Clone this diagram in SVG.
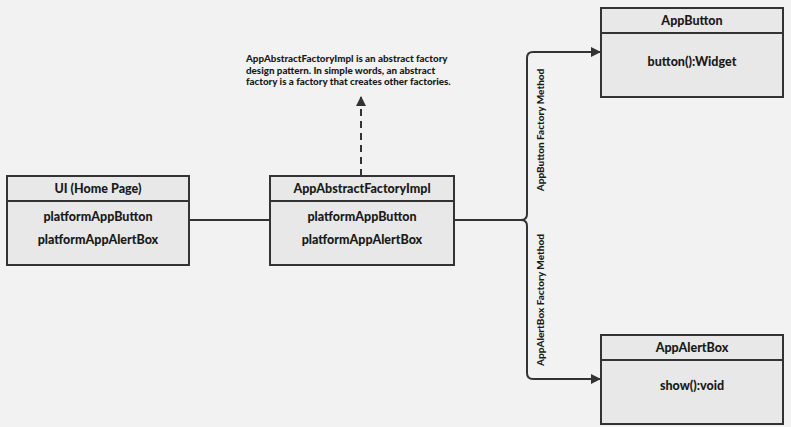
<svg xmlns="http://www.w3.org/2000/svg" width="791" height="427" viewBox="0 0 791 427">
<style>
.box{fill:#e8e8e8;stroke:#333;stroke-width:2}
text{font-family:"Lato","DejaVu Sans",sans-serif;font-weight:900;fill:#1a1a1a}
.t{font-size:12.5px;text-anchor:middle}
.s{font-size:9.8px}
.v{font-size:10px;text-anchor:middle}
.ln{fill:none;stroke:#333;stroke-width:2}
</style>
<defs><marker id="a" markerWidth="10" markerHeight="10" refX="9" refY="5" orient="auto" markerUnits="userSpaceOnUse"><path d="M0,0L10,5L0,10z" fill="#333"/></marker></defs>
<rect width="791" height="427" fill="#f2f2f2"/>
<g id="connectors">
<line class="ln" x1="189" y1="220" x2="270" y2="220"/>
<line class="ln" x1="361" y1="176" x2="361" y2="97" stroke-dasharray="7,5" marker-end="url(#a)"/>
<path class="ln" d="M454,220H521Q527,220 527,214V58Q527,52 533,52H600" marker-end="url(#a)"/>
<path class="ln" d="M521,220Q527,220 527,226V373Q527,379 533,379H600" marker-end="url(#a)"/>
<text class="v" transform="translate(544,130) rotate(-90)">AppButton Factory Method</text>
<text class="v" transform="translate(544,300) rotate(-90)">AppAlertBox Factory Method</text>
</g>
<g id="note">
<text class="s" x="246" y="62">AppAbstractFactoryImpl is an abstract factory</text>
<text class="s" x="246" y="74">design pattern. In simple words, an abstract</text>
<text class="s" x="246" y="85">factory is a factory that creates other factories.</text>
</g>
<g id="ui">
<rect class="box" x="7" y="176" width="182" height="89"/>
<line class="ln" x1="7" y1="201" x2="189" y2="201"/>
<text class="t" x="98" y="193">UI (Home Page)</text>
<text class="t" x="98" y="221">platformAppButton</text>
<text class="t" x="98" y="244">platformAppAlertBox</text>
</g>
<g id="factory">
<rect class="box" x="270" y="176" width="184" height="89"/>
<line class="ln" x1="270" y1="201" x2="454" y2="201"/>
<text class="t" x="362" y="193">AppAbstractFactoryImpl</text>
<text class="t" x="362" y="221">platformAppButton</text>
<text class="t" x="362" y="244">platformAppAlertBox</text>
</g>
<g id="appbutton">
<rect class="box" x="601" y="8" width="182" height="89"/>
<line class="ln" x1="601" y1="33" x2="783" y2="33"/>
<text class="t" x="692" y="25">AppButton</text>
<text class="t" x="692" y="66">button():Widget</text>
</g>
<g id="appalertbox">
<rect class="box" x="601" y="335" width="182" height="89"/>
<line class="ln" x1="601" y1="360" x2="783" y2="360"/>
<text class="t" x="692" y="352">AppAlertBox</text>
<text class="t" x="692" y="390">show():void</text>
</g>
</svg>
